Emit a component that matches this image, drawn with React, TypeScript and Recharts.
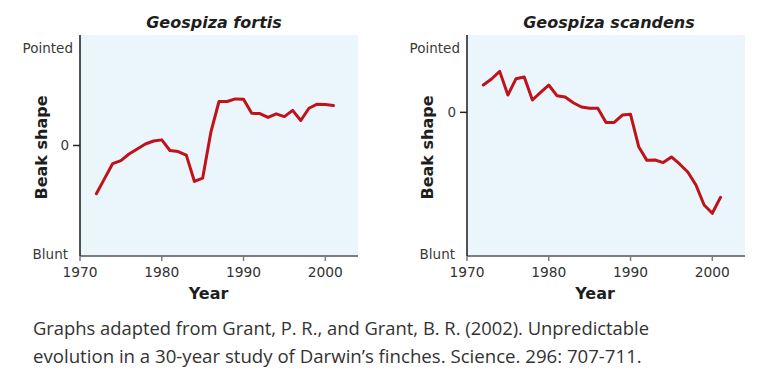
import React from 'react';
import { LineChart, Line, XAxis, YAxis, CartesianGrid } from 'recharts';

const years = [
  1972, 1973, 1974, 1975, 1976, 1977, 1978, 1979, 1980, 1981,
  1982, 1983, 1984, 1985, 1986, 1987, 1988, 1989, 1990, 1991,
  1992, 1993, 1994, 1995, 1996, 1997, 1998, 1999, 2000, 2001,
];

const fortisShape = [
  -0.48, -0.33, -0.18, -0.15, -0.085, -0.035, 0.015, 0.045, 0.056, -0.05,
  -0.06, -0.096, -0.358, -0.325, 0.13, 0.438, 0.438, 0.464, 0.46, 0.32,
  0.318, 0.279, 0.315, 0.288, 0.35, 0.249, 0.371, 0.411, 0.408, 0.398,
];

const scandensShape = [
  0.272, 0.332, 0.408, 0.172, 0.335, 0.352, 0.123, 0.199, 0.272, 0.166,
  0.153, 0.096, 0.053, 0.04, 0.04, -0.1, -0.1, -0.027, -0.02, -0.342,
  -0.478, -0.474, -0.5, -0.444, -0.514, -0.594, -0.723, -0.922, -1.005, -0.846,
];

const xTicks = [1970, 1980, 1990, 2000];
const xDomain = [1970, 2004];
const yTickLabels = ['Blunt', '0', 'Pointed'];
const fortisYTicks = [-1.08, 0, 0.97];
const scandensYTicks = [-1.41, 0, 0.64];
const fortisDomain = [-1.1, 1.1];
const scandensDomain = [-1.43, 0.77];

const titles = ['Geospiza fortis', 'Geospiza scandens'];
const xTitle = 'Year';
const yTitle = 'Beak shape';
const captionLines = [
  'Graphs adapted from Grant, P. R., and Grant, B. R. (2002). Unpredictable',
  'evolution in a 30-year study of Darwin\u2019s finches. Science. 296: 707-711.',
];

const fortisData = years.map((year, i) => ({ year, value: fortisShape[i] }));
const scandensData = years.map((year, i) => ({ year, value: scandensShape[i] }));

const FONT = '"DejaVu Sans", Verdana, sans-serif';
const RED = '#C0121A';
const BG = '#EAF5FC';

const makeYTick = (ticks: number[]) => (props: any) => {
  const { x, y, payload } = props;
  let idx = 0;
  ticks.forEach((t, i) => {
    if (Math.abs(t - payload.value) < 1e-6) idx = i;
  });
  const label = yTickLabels[idx];
  const isZero = Math.abs(payload.value) < 1e-9;
  const tx = label === 'Pointed' ? x : label === '0' ? x - 4 : x - 5;
  return (
    <g>
      {isZero && (
        <line x1={x} x2={x + 7} y1={y} y2={y} stroke="#222" strokeWidth={1.5} />
      )}
      <text
        x={tx}
        y={y}
        dy="0.355em"
        textAnchor="end"
        fontFamily={FONT}
        fontSize={13.5}
        fill="#3a3a3a"
      >
        {label}
      </text>
    </g>
  );
};

function Panel(props: {
  data: { year: number; value: number }[];
  domain: number[];
  ticks: number[];
  width: number;
  yWidth: number;
  right: number;
}) {
  const { data, domain, ticks, width, yWidth, right } = props;
  return (
    <LineChart
      width={width}
      height={310}
      data={data}
      margin={{ top: 35, right, bottom: 0, left: 0 }}
    >
      <CartesianGrid horizontal={false} vertical={false} fill={BG} stroke="none" />
      <XAxis
        dataKey="year"
        type="number"
        domain={xDomain}
        ticks={xTicks}
        allowDataOverflow
        height={54}
        axisLine={{ stroke: '#7d7d7d', strokeWidth: 2 }}
        tickLine={{ stroke: '#7d7d7d', strokeWidth: 1.5 }}
        tickSize={5}
        tickMargin={6}
        tick={{ fontSize: 13.8, fill: '#333', fontFamily: FONT }}
      />
      <YAxis
        type="number"
        domain={domain}
        ticks={ticks}
        interval={0}
        allowDataOverflow
        width={yWidth}
        axisLine={{ stroke: '#1a1a1a', strokeWidth: 1.5 }}
        tickLine={false}
        tickSize={7}
        tickMargin={0}
        tick={makeYTick(ticks)}
      />
      <Line
        type="linear"
        dataKey="value"
        stroke={RED}
        strokeWidth={3}
        strokeLinejoin="round"
        strokeLinecap="round"
        dot={false}
        activeDot={false}
        isAnimationActive={false}
      />
    </LineChart>
  );
}

export default function App() {
  return (
    <div
      style={{
        position: 'absolute',
        left: 0,
        top: 0,
        width: 758,
        height: 378,
        background: '#fff',
        overflow: 'hidden',
      }}
    >
      <div style={{ position: 'absolute', left: 0, top: 0 }}>
        <Panel data={fortisData} domain={fortisDomain} ticks={fortisYTicks} width={380} yWidth={80} right={22} />
      </div>
      <div style={{ position: 'absolute', left: 380, top: 0 }}>
        <Panel data={scandensData} domain={scandensDomain} ticks={scandensYTicks} width={378} yWidth={87} right={13} />
      </div>
      <svg
        width={758}
        height={378}
        style={{ position: 'absolute', left: 0, top: 0, pointerEvents: 'none' }}
      >
        <text x={214} y={27.5} textAnchor="middle" fontFamily={FONT} fontSize={16} fontWeight="bold" fontStyle="italic" fill="#1e1e1e">
          {titles[0]}
        </text>
        <text x={609} y={27.5} textAnchor="middle" fontFamily={FONT} fontSize={16} fontWeight="bold" fontStyle="italic" fill="#1e1e1e">
          {titles[1]}
        </text>
        <text x={208.5} y={299.3} textAnchor="middle" fontFamily={FONT} fontSize={16} fontWeight="bold" fill="#1e1e1e">
          {xTitle}
        </text>
        <text x={595} y={299.3} textAnchor="middle" fontFamily={FONT} fontSize={16} fontWeight="bold" fill="#1e1e1e">
          {xTitle}
        </text>
        <text x={46.5} y={147.5} transform="rotate(-90 46.5 147.5)" textAnchor="middle" fontFamily={FONT} fontSize={16} fontWeight="bold" fill="#1e1e1e">
          {yTitle}
        </text>
        <text x={433.3} y={147.5} transform="rotate(-90 433.3 147.5)" textAnchor="middle" fontFamily={FONT} fontSize={16} fontWeight="bold" fill="#1e1e1e">
          {yTitle}
        </text>
        <text x={33} y={335} fontFamily='"Open Sans", "Noto Sans", sans-serif' fontSize={18} fill="#333" textLength={616} lengthAdjust="spacingAndGlyphs">
          {captionLines[0]}
        </text>
        <text x={33} y={362.5} fontFamily='"Open Sans", "Noto Sans", sans-serif' fontSize={18} fill="#333" textLength={608.7} lengthAdjust="spacingAndGlyphs">
          {captionLines[1]}
        </text>
      </svg>
    </div>
  );
}
